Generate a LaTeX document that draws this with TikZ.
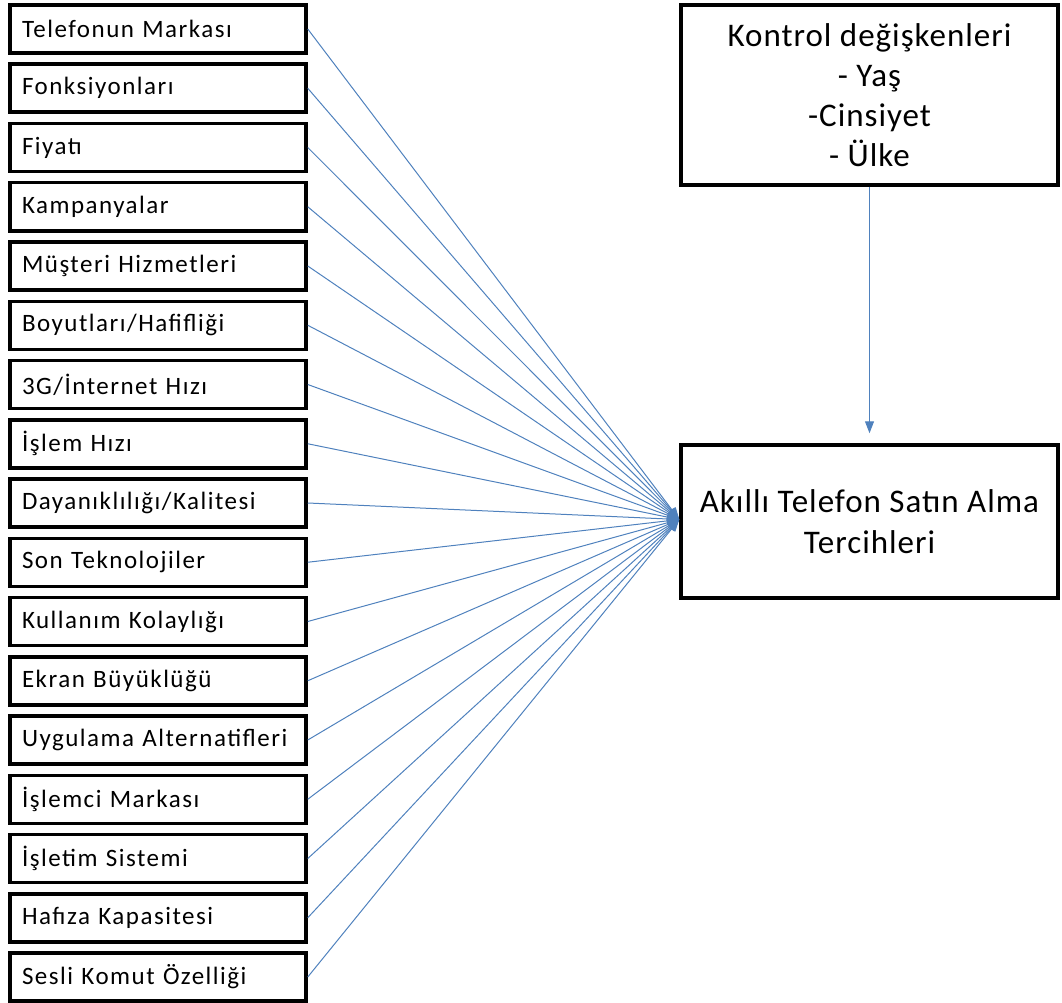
\documentclass[tikz,border=0pt]{standalone}
\usepackage{fontspec}
\setmainfont{Carlito}
\usetikzlibrary{arrows.meta}
\definecolor{linkblue}{RGB}{79,129,189}
\tikzset{
  factor/.style={draw=black, line width=3.5pt, fill=white, minimum height=48pt,
    text width=272pt, inner xsep=12pt, inner ysep=0pt, align=left,
    font=\fontsize{25}{28}\selectfont\addfontfeature{LetterSpace=6}, anchor=center},
  bigbox/.style={draw=black, line width=3.5pt, fill=white, minimum width=377pt,
    align=center, anchor=center},
  link/.style={draw=linkblue, line width=1pt, -{Triangle[length=12pt,width=9pt]}}
}
\begin{document}
\begin{tikzpicture}[x=1pt,y=-1pt]
\useasboundingbox (0,0) rectangle (1062,1003);
\node[bigbox, minimum height=180pt, font=\fontsize{33}{40}\selectfont\addfontfeature{LetterSpace=3}] (ctrl) at (869.5,95)
  {Kontrol değişkenleri\\- Yaş\\-Cinsiyet\\- Ülke};
\node[bigbox, minimum height=153pt, font=\fontsize{33}{41}\selectfont\addfontfeature{LetterSpace=3}] (out) at (869.5,521.5)
  {Akıllı Telefon Satın Alma\\Tercihleri};
\foreach \t [count=\i from 0] in {Telefonun Markası, Fonksiyonları, Fiyatı, Kampanyalar,
  Müşteri Hizmetleri, Boyutları/Hafifliği, 3G/İnternet Hızı, İşlem Hızı,
  Dayanıklılığı/Kalitesi, Son Teknolojiler, Kullanım Kolaylığı, Ekran Büyüklüğü,
  Uygulama Alternatifleri, İşlemci Markası, İşletim Sistemi, Hafıza Kapasitesi,
  Sesli Komut Özelliği}{
  \node[factor] (f\i) at (158,29+59.25*\i) {\t};
  \draw[link] (f\i.east) -- ([yshift=2pt]out.west);
}
\draw[link] (ctrl.south) -- ([yshift=10pt]out.north);
\end{tikzpicture}
\end{document}
